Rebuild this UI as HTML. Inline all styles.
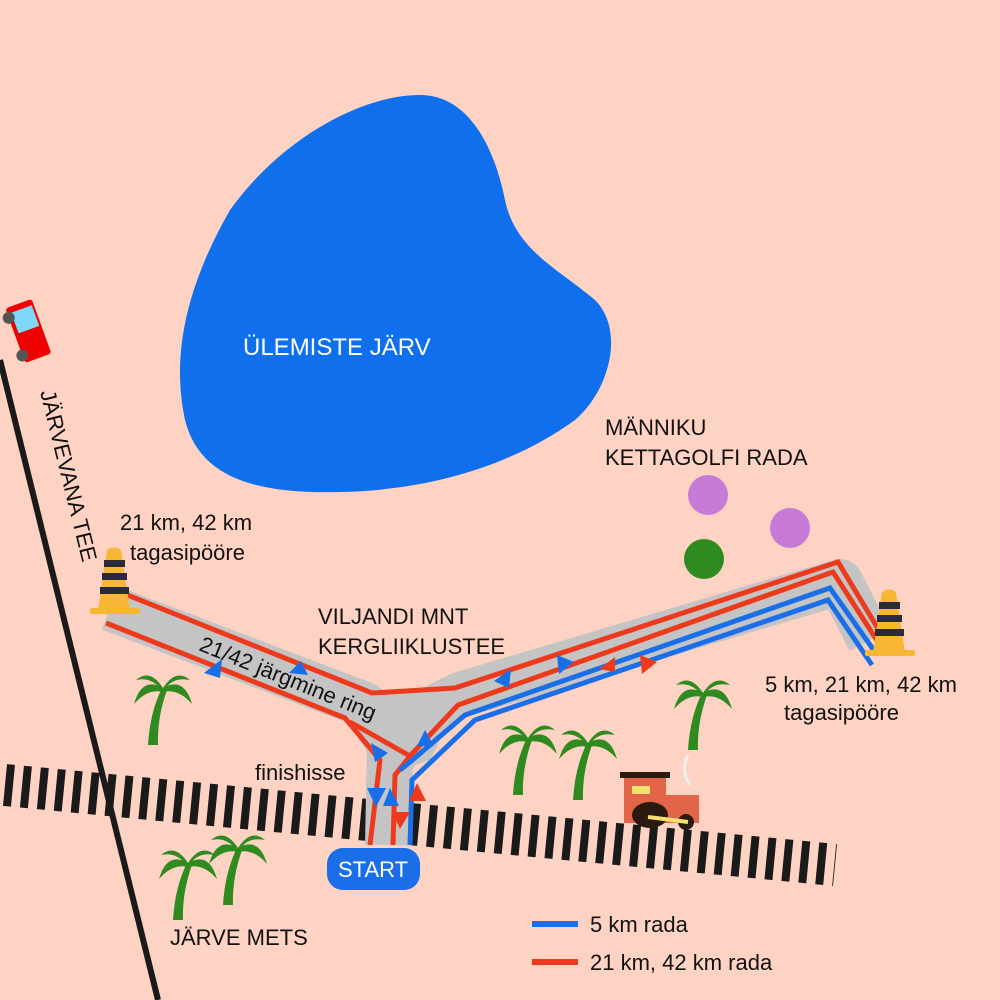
<!DOCTYPE html>
<html><head><meta charset="utf-8"><style>
html,body{margin:0;padding:0;background:#ffd3c3;}
svg{display:block}
text{font-family:"Liberation Sans",sans-serif;fill:#111;}
</style></head><body>
<svg width="1000" height="1000" viewBox="0 0 1000 1000">
<rect width="1000" height="1000" fill="#ffd3c3"/>
<path d="M420,95 C470,95 495,150 505,200 C515,250 560,270 595,300 C625,330 610,390 575,420 C520,460 440,490 340,492 C260,494 200,480 185,420 C170,350 190,280 230,210 C280,140 360,95 420,95 Z" fill="#0f6fec"/>
<text x="243" y="355" font-size="24" style="fill:#fff">ÜLEMISTE JÄRV</text>
<line x1="0" y1="360" x2="158" y2="1000" stroke="#1a1a1a" stroke-width="6"/>
<text transform="translate(40,392) rotate(76)" font-size="22">JÄRVEVANA TEE</text>
<g transform="translate(28,330) rotate(-20)">
<rect x="-14" y="-28" width="28" height="58" fill="#e00" rx="3"/>
<rect x="-10" y="-22" width="22" height="22" fill="#7fd8f5"/>
<circle cx="-14" cy="-18" r="6" fill="#555"/><circle cx="-14" cy="22" r="6" fill="#555"/>
</g>
<line x1="5" y1="785" x2="835" y2="865" stroke="#1a1a1a" stroke-width="42" stroke-dasharray="8 9"/>
<g stroke="#c4c4c4" stroke-width="46" fill="none" stroke-linejoin="round">
<polyline points="110,608 365,705 390,745 388,845"/>
<polyline points="392,760 410,720 460,695 840,582 870,640"/>
</g>
<path d="M345,700 L470,680 L430,760 L385,775 Z" fill="#c4c4c4"/>
<g stroke="#ee3a1c" stroke-width="5" fill="none">
<polyline points="125,594 372,693 455,688 838,562 880,632"/>
<polyline points="106,623 345,718 380,760 370,845"/>
<polyline points="350,722 410,756 458,705 833,572 878,642"/>
<polyline points="410,756 395,775 393,845"/>
</g>
<g stroke="#1a6fe8" stroke-width="5" fill="none">
<polyline points="400,770 410,762 465,715 830,588 875,652"/>
<polyline points="410,845 412,780 475,720 828,600 872,665"/>
</g>
<g fill="#1a6fe8">
<polygon points="204,673 222,659 220,678"/><polygon points="301,661 289,673 308,675"/>
<polygon points="494,681 511,669 509,688"/><polygon points="574,662 557,655 559,674"/>
<polygon points="388,753 371,743 375,762"/><polygon points="425,730 417,746 434,746"/>
<polygon points="376,807 367,788 386,788"/><polygon points="390,788 383,806 399,806"/>
</g>
<g fill="#ee3a1c">
<polygon points="599,669 615,657 615,672"/><polygon points="657,662 640,655 642,674"/>
<polygon points="417,783 409,801 426,801"/><polygon points="400,829 392,812 410,812"/>
</g>
<rect x="327" y="848" width="93" height="42" rx="16" fill="#1a6fe8"/>
<text x="338" y="877" font-size="22" style="fill:#fff">START</text>
<g id="cone">
<path d="M107,550 Q114,545 121,550 L130,610 L98,610 Z" fill="#f7b733"/>
<rect x="104" y="560" width="21" height="7" fill="#2a2a3a"/>
<rect x="102" y="573" width="25" height="7" fill="#2a2a3a"/>
<rect x="100" y="587" width="29" height="7" fill="#2a2a3a"/>
<rect x="90" y="608" width="50" height="6" fill="#f7b733" rx="2"/>
</g>
<use href="#cone" transform="translate(775,42)"/>
<circle cx="708" cy="495" r="20" fill="#c77ad6"/>
<circle cx="790" cy="528" r="20" fill="#c77ad6"/>
<circle cx="704" cy="559" r="20" fill="#2f8a1f"/>
<g id="palm" fill="#2f8a1f">
<path d="M148,745 Q150,712 162,688 L167,690 Q157,718 158,745 Z"/>
<path d="M163,688 Q142,676 134,704 Q148,688 163,692 Z"/>
<path d="M163,688 Q184,676 192,704 Q178,688 163,692 Z"/>
<path d="M163,688 Q150,668 136,680 Q152,676 163,692 Z"/>
<path d="M163,688 Q176,668 190,680 Q172,676 163,692 Z"/>
</g>
<use href="#palm" transform="translate(540,5)"/>
<use href="#palm" transform="translate(365,50)"/>
<use href="#palm" transform="translate(425,55)"/>
<use href="#palm" transform="translate(25,175)"/>
<use href="#palm" transform="translate(75,160)"/>
<g>
<rect x="620" y="772" width="50" height="6" fill="#2a1a10"/>
<rect x="624" y="778" width="42" height="45" fill="#e2654a"/>
<rect x="632" y="786" width="18" height="8" fill="#f5e070"/>
<rect x="664" y="795" width="35" height="28" fill="#e2654a"/>
<ellipse cx="650" cy="815" rx="18" ry="13" fill="#2a1a10"/>
<circle cx="686" cy="822" r="8" fill="#2a1a10"/>
<line x1="648" y1="817" x2="688" y2="822" stroke="#f5e070" stroke-width="4"/>
<path d="M688,755 Q680,770 690,785" stroke="#eee" stroke-width="3" fill="none"/>
</g>
<g font-size="22">
<text x="120" y="530">21 km, 42 km</text>
<text x="130" y="560">tagasipööre</text>
<text x="318" y="624">VILJANDI MNT</text>
<text x="318" y="654">KERGLIIKLUSTEE</text>
<text transform="translate(198,650) rotate(22)">21/42 järgmine ring</text>
<text x="255" y="780">finishisse</text>
<text x="605" y="435">MÄNNIKU</text>
<text x="605" y="465">KETTAGOLFI RADA</text>
<text x="765" y="692">5 km, 21 km, 42 km</text>
<text x="784" y="720">tagasipööre</text>
<text x="170" y="945">JÄRVE METS</text>
<text x="590" y="932">5 km rada</text>
<text x="590" y="970">21 km, 42 km rada</text>
</g>
<line x1="532" y1="924" x2="578" y2="924" stroke="#1a6fe8" stroke-width="6"/>
<line x1="532" y1="962" x2="578" y2="962" stroke="#ee3a1c" stroke-width="6"/>
</svg>
</body></html>
